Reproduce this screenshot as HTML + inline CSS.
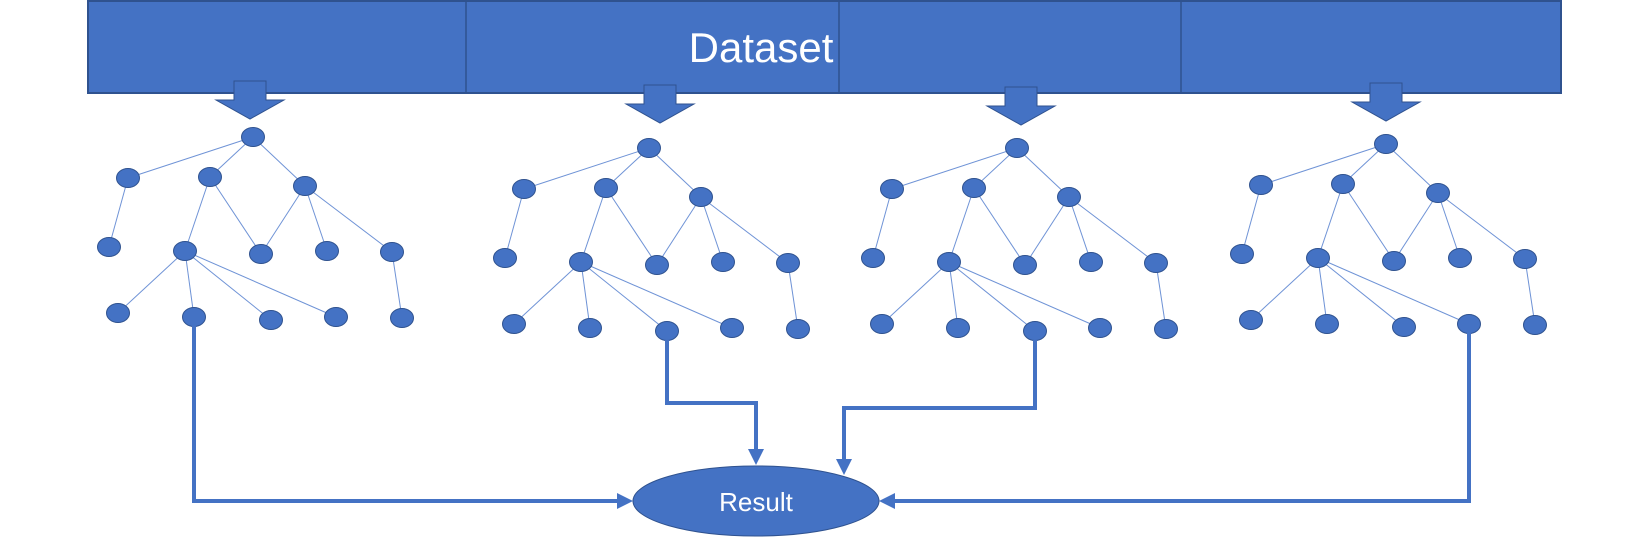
<!DOCTYPE html>
<html><head><meta charset="utf-8"><style>html,body{margin:0;padding:0;background:#fff;}svg{display:block}</style></head>
<body>
<svg width="1650" height="538" viewBox="0 0 1650 538" xmlns="http://www.w3.org/2000/svg">
<defs>
<g id="tree">
 <g stroke="#6f93d6" stroke-width="1" fill="none">
  <line x1="253" y1="137" x2="128" y2="178"/>
  <line x1="253" y1="137" x2="210" y2="177"/>
  <line x1="253" y1="137" x2="305" y2="186"/>
  <line x1="128" y1="178" x2="109" y2="247"/>
  <line x1="210" y1="177" x2="185" y2="251"/>
  <line x1="210" y1="177" x2="261" y2="254"/>
  <line x1="305" y1="186" x2="261" y2="254"/>
  <line x1="305" y1="186" x2="327" y2="251"/>
  <line x1="305" y1="186" x2="392" y2="252"/>
  <line x1="185" y1="251" x2="118" y2="313"/>
  <line x1="185" y1="251" x2="194" y2="317"/>
  <line x1="185" y1="251" x2="271" y2="320"/>
  <line x1="185" y1="251" x2="336" y2="317"/>
  <line x1="392" y1="252" x2="402" y2="318"/>
 </g>
 <g fill="#4472C4" stroke="#2F528F" stroke-width="1">
  <ellipse cx="253" cy="137" rx="11.5" ry="9.5"/>
  <ellipse cx="128" cy="178" rx="11.5" ry="9.5"/>
  <ellipse cx="210" cy="177" rx="11.5" ry="9.5"/>
  <ellipse cx="305" cy="186" rx="11.5" ry="9.5"/>
  <ellipse cx="109" cy="247" rx="11.5" ry="9.5"/>
  <ellipse cx="185" cy="251" rx="11.5" ry="9.5"/>
  <ellipse cx="261" cy="254" rx="11.5" ry="9.5"/>
  <ellipse cx="327" cy="251" rx="11.5" ry="9.5"/>
  <ellipse cx="392" cy="252" rx="11.5" ry="9.5"/>
  <ellipse cx="118" cy="313" rx="11.5" ry="9.5"/>
  <ellipse cx="194" cy="317" rx="11.5" ry="9.5"/>
  <ellipse cx="271" cy="320" rx="11.5" ry="9.5"/>
  <ellipse cx="336" cy="317" rx="11.5" ry="9.5"/>
  <ellipse cx="402" cy="318" rx="11.5" ry="9.5"/>
 </g>
</g>
<path id="arr" d="M-16,0 L16,0 L16,19 L34,19 L0,38 L-34,19 L-16,19 Z" fill="#4472C4" stroke="#2F528F" stroke-width="1"/>
</defs>
<rect x="88" y="1" width="1473" height="92" fill="#4472C4" stroke="#2F528F" stroke-width="2"/>
<line x1="466" y1="1" x2="466" y2="93" stroke="#2F528F" stroke-width="1.5"/>
<line x1="839" y1="1" x2="839" y2="93" stroke="#2F528F" stroke-width="1.5"/>
<line x1="1181" y1="1" x2="1181" y2="93" stroke="#2F528F" stroke-width="1.5"/>
<text x="761" y="62" fill="#fff" font-family="Liberation Sans, sans-serif" font-size="42" text-anchor="middle">Dataset</text>
<use href="#arr" transform="translate(250,81)"/>
<use href="#arr" transform="translate(660,85)"/>
<use href="#arr" transform="translate(1021,87)"/>
<use href="#arr" transform="translate(1386,83)"/>
<use href="#tree"/>
<use href="#tree" transform="translate(396,11)"/>
<use href="#tree" transform="translate(764,11)"/>
<use href="#tree" transform="translate(1133,7)"/>
<g stroke="#4472C4" stroke-width="4" fill="none">
 <polyline points="194,325 194,501 620,501"/>
 <polyline points="667,340 667,403 756,403 756,452"/>
 <polyline points="1035,340 1035,408 844,408 844,462"/>
 <polyline points="1469,332 1469,501 892,501"/>
</g>
<g fill="#4472C4">
 <polygon points="633,501 617,493 617,509"/>
 <polygon points="756,465 748,449 764,449"/>
 <polygon points="844,475 836,459 852,459"/>
 <polygon points="879,501 895,493 895,509"/>
</g>
<ellipse cx="756" cy="501" rx="123" ry="35" fill="#4472C4" stroke="#2F528F" stroke-width="1"/>
<text x="756" y="511" fill="#fff" font-family="Liberation Sans, sans-serif" font-size="26" text-anchor="middle">Result</text>
</svg>
</body></html>
